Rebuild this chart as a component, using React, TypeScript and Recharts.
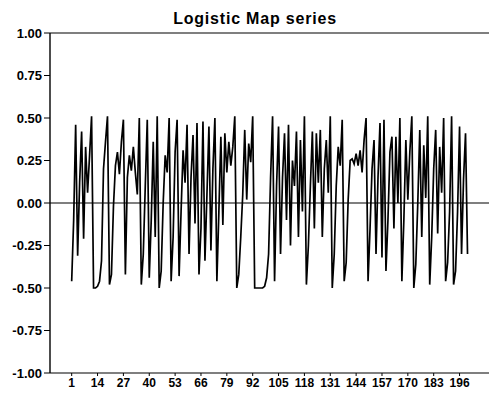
import React from "react";
import {
  LineChart,
  Line,
  XAxis,
  YAxis,
  ReferenceLine,
} from "recharts";

// series values, one per step (1..200)
const series = [
  -0.46, -0.10, 0.46, -0.31, 0.12, 0.42, -0.21, 0.33, 0.06, 0.28,
  0.51, -0.50, -0.50, -0.49, -0.46, -0.34, 0.20, 0.36, 0.51, -0.48,
  -0.42, -0.02, 0.22, 0.30, 0.17, 0.36, 0.49, -0.42, 0.15, 0.28,
  0.19, 0.33, 0.18, 0.05, 0.50, -0.48, -0.30, 0.10, 0.49, -0.44,
  -0.10, 0.36, -0.20, 0.51, -0.50, -0.40, 0.00, 0.28, 0.18, 0.50,
  -0.46, -0.20, 0.30, 0.49, -0.43, -0.05, 0.31, 0.12, 0.46, -0.30,
  0.15, 0.40, -0.12, 0.47, -0.42, -0.15, 0.48, -0.34, 0.05, 0.45,
  -0.28, 0.20, 0.50, -0.46, -0.05, 0.39, -0.13, 0.41, 0.18, 0.36,
  0.22, 0.33, 0.51, -0.50, -0.42, -0.20, 0.05, 0.43, 0.02, 0.35,
  0.24, 0.51, -0.50, -0.50, -0.50, -0.50, -0.50, -0.49, -0.44, -0.30,
  0.15, 0.51, -0.46, 0.10, 0.45, -0.30, 0.15, 0.41, -0.10, 0.46,
  -0.25, 0.25, 0.10, 0.42, -0.20, 0.37, -0.05, 0.51, -0.48, -0.25,
  0.10, 0.42, -0.15, 0.41, 0.12, 0.43, -0.20, 0.20, 0.37, 0.06,
  0.51, -0.50, -0.30, 0.10, 0.33, 0.22, 0.49, -0.46, -0.35, 0.02,
  0.25, 0.26, 0.23, 0.29, 0.22, 0.31, 0.18, 0.37, 0.50, -0.46,
  -0.15, 0.20, 0.37, -0.30, 0.15, 0.47, -0.32, 0.49, -0.40, -0.10,
  0.30, 0.39, -0.15, 0.39, 0.00, 0.50, -0.46, -0.10, 0.37, 0.02,
  0.30, 0.51, -0.50, -0.36, 0.00, 0.43, -0.20, 0.34, 0.03, 0.51,
  -0.48, -0.20, 0.20, 0.43, -0.18, 0.33, 0.06, 0.50, -0.46, -0.35,
  -0.05, 0.51, -0.48, -0.40, -0.05, 0.45, -0.30, 0.14, 0.41, -0.30,
];

const xTicks = [1, 14, 27, 40, 53, 66, 79, 92, 105, 118, 131, 144, 157, 170, 183, 196];
const yTicks = [-1, -0.75, -0.5, -0.25, 0, 0.25, 0.5, 0.75, 1];

const data = series.map((v, i) => ({ t: i + 1, v }));

const FONT = "'Liberation Sans', Arial, Helvetica, sans-serif";

export default function App() {
  return (
    <div style={{ position: "absolute", left: 0, top: 0, width: 489, height: 394, background: "#fff" }}>
      <LineChart
        width={489}
        height={394}
        data={data}
        margin={{ top: 33, right: 0, bottom: 0, left: 0 }}
      >
        <XAxis
          dataKey="t"
          type="number"
          domain={[-9.9, 210.8]}
          ticks={xTicks}
          interval={0}
          height={21}
          tickSize={3}
          tickMargin={2}
          stroke="#000"
          tick={{ fill: "#000", fontSize: 12, fontWeight: 700, fontFamily: FONT }}
          axisLine={{ stroke: "#000", strokeWidth: 1.2 }}
        />
        <YAxis
          type="number"
          domain={[-1, 1]}
          ticks={yTicks}
          width={50}
          tickSize={6}
          tickMargin={2}
          stroke="#000"
          tickFormatter={(v: number) => v.toFixed(2)}
          tick={{ fill: "#000", fontSize: 13, fontWeight: 700, fontFamily: FONT }}
          axisLine={{ stroke: "#000", strokeWidth: 1.4 }}
        />
        <ReferenceLine y={1} stroke="#000" strokeWidth={1.2} />
        <ReferenceLine y={0} stroke="#000" strokeWidth={1.2} />
        <Line
          type="linear"
          dataKey="v"
          stroke="#000"
          strokeWidth={1.7}
          dot={false}
          isAnimationActive={false}
        />
      </LineChart>
      <svg
        width={489}
        height={30}
        style={{ position: "absolute", left: 0, top: 0, pointerEvents: "none" }}
      >
        <text
          x={255}
          y={24}
          textAnchor="middle"
          fontFamily={FONT}
          fontWeight={700}
          fontSize={16}
          letterSpacing={0.8}
          fill="#000"
        >
          Logistic Map series
        </text>
      </svg>
    </div>
  );
}
